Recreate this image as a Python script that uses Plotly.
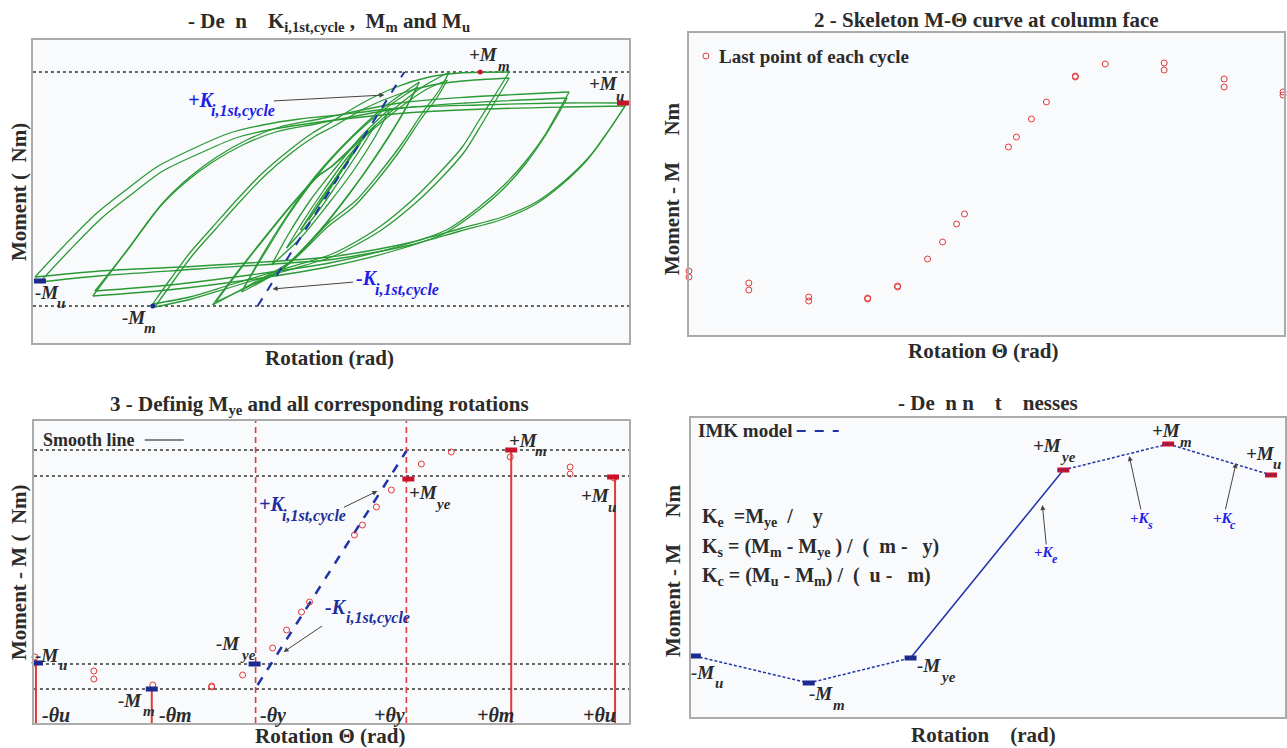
import plotly.graph_objects as go

W, H = 1287, 748
FONT = "Liberation Serif, Times New Roman, serif"
DARK = "#2b2b2b"
GREEN = "#2a9a35"
RED = "#e03a3a"
DRED = "#c8142a"
NAVY = "#1b2a8f"
BLUE_DASH = "#1f33a8"
BRIGHT_BLUE = "#1e1ee6"
KBLUE3 = "#1e2e9e"
NB = "\u00a0"

# ---------------- Panel 1 : hysteresis loops (rotation x1e-4 rad, moment kN.m) -------------
A1_rot = [-296, -268, -234, -201, -174, -134, -101, -68, -31, -1, 69, 149, 229, 297, 279, 259, 232, 206, 172, 132, 82, 32, -1, -131, -231, -296]
A1_mom = [-87, -57, -23, 3, 23, 43, 57, 65, 71, 74, 82, 85, 87, 87, 60, 33, 7, -12, -27, -38, -52, -62, -67, -76, -81, -87]
A2_rot = [-291, -262, -228, -195, -168, -128, -95, -62, -25, 5, 75, 155, 235, 295, 277, 257, 230, 204, 170, 130, 80, 30, -3, -133, -233, -291]
A2_mom = [-92, -61, -27, -1, 19, 38, 52, 60, 66, 70, 77, 81, 83, 84, 57, 30, 4, -15, -30, -41, -55, -65, -70, -79, -86, -92]
B1_rot = [-236, -201, -168, -141, -114, -84, -51, -11, 69, 139, 239, 229, 216, 199, 176, 149, 116, 66, -1, -81, -161, -236]
B1_mom = [-101, -57, -13, 13, 33, 50, 63, 71, 87, 93, 98, 80, 57, 33, 7, -17, -40, -57, -73, -85, -95, -101]
B2_rot = [-238, -205, -172, -145, -118, -88, -55, -15, 65, 135, 237, 227, 213, 196, 173, 146, 113, 63, -3, -83, -163, -238]
B2_mom = [-106, -62, -18, 8, 28, 45, 58, 66, 81, 87, 92, 74, 51, 27, 1, -22, -44, -61, -77, -90, -100, -106]
C1_rot = [-178, -161, -141, -118, -94, -68, -41, -18, -1, 32, 66, 99, 129, 179, 166, 149, 132, 109, 82, 49, 16, -1, -51, -101, -141, -178]
C1_mom = [-114, -90, -63, -37, -10, 17, 40, 57, 67, 87, 103, 113, 117, 118, 97, 70, 43, 17, -10, -37, -57, -65, -80, -95, -107, -114]
C2_rot = [-176, -158, -138, -115, -91, -65, -38, -15, 2, 35, 69, 102, 132, 179, 167, 151, 134, 111, 84, 51, 18, 1, -49, -99, -139, -176]
C2_mom = [-117, -92, -65, -39, -12, 15, 38, 54, 63, 82, 96, 105, 109, 112, 92, 65, 38, 12, -14, -40, -59, -67, -82, -97, -109, -117]
D1_rot = [-118, -94, -68, -41, -14, -1, 32, 66, 92, 119, 109, 92, 72, 49, 26, -1, -41, -81, -118]
D1_mom = [-115, -83, -50, -17, 13, 22, 53, 83, 103, 118, 100, 77, 47, 17, -10, -32, -72, -95, -115]
D2_rot = [-115, -91, -65, -38, -11, 2, 35, 69, 95, 117, 107, 90, 70, 47, 24, -3, -43, -83, -115]
D2_mom = [-112, -80, -47, -14, 15, 24, 54, 82, 100, 110, 93, 70, 40, 10, -16, -37, -75, -97, -112]
E1_rot = [-89, -70, -45, -15, 20, 55, 89, 72, 48, 20, -12, -50, -89]
E1_mom = [-102, -68, -28, 14, 52, 84, 108, 76, 38, -2, -42, -80, -102]
E2_rot = [-87, -67, -42, -12, 22, 57, 87, 70, 46, 18, -14, -52, -87]
E2_mom = [-98, -65, -25, 16, 53, 83, 103, 72, 34, -5, -45, -82, -98]
F_rot = [-59, -42, -20, 5, 32, 60, 44, 22, -3, -30, -59]
F_mom = [-75, -44, -10, 22, 55, 82, 52, 18, -15, -48, -75]
G_rot = [-44, -28, -8, 15, 45, 28, 8, -15, -44]
G_mom = [-58, -32, -2, 30, 65, 38, 8, -25, -58]
H_rot = [-30, -12, 8, 30, 12, -8, -30]
H_mom = [-40, -12, 16, 47, 20, -10, -40]
I_rot = [-22, -5, 22, 5, -22]
I_mom = [-30, -4, 37, 10, -30]

p1_k_rot = [-73, 74]
p1_k_mom = [-116, 118]
p1_levels = [118, -116]
p1_pos_Mm = (150, 118)
p1_neg_Mm = (-178, -116)
p1_pos_Mu = (293, 87)
p1_neg_Mu = (-291, -91)

# ---------------- Panel 2 : skeleton points -------------
p2_rot = [-298, -298, -238, -238, -178, -178, -119, -119, -89, -89, -59, -44, -30, -22,
          22, 30, 45, 60, 89, 89, 119, 178, 178, 238, 238, 297, 297]
p2_mom = [-87, -93, -99, -106, -113, -117, -114, -115, -102, -103, -75, -58, -40, -30,
          37, 47, 65, 82, 108, 107, 120, 121, 114, 105, 97, 92, 89]

# ---------------- Panel 3 -------------
p3_rot = [-291, -291, -232, -232, -173, -114, -114, -83, -53, -39, -24, -16, 29, 37, 51, 66, 96, 126, 185, 245, 245, 289]
p3_mom = [-86, -92, -100, -108, -114, -115, -116, -104, -77, -59, -41, -31, 36, 46, 64, 81, 107, 119, 114, 104, 97, 93]
p3_levels = [121, 95, -93, -118]
p3_theta_y = [-70, 81]
p3_stem_rot = [-290, -174, 186, 290]
p3_stem_mom = [-92, -118, 121, 95]
p3_bar_rot = [-289, -174, -71, 83, 186, 288]
p3_bar_mom = [-92, -118, -93, 92, 121, 94]
p3_k_rot = [-68, 81]
p3_k_mom = [-114, 120]

# ---------------- Panel 4 : IMK model -------------
p4_rot = [-294, -180, -78, 75, 180, 283]
p4_mom = [-86, -113, -88, 100, 126, 95]

R1 = dict(x=[-298, 299], y=[-153, 150])
R2 = dict(x=[-298, 298], y=[-151, 151])
R3 = dict(x=[-292, 304], y=[-152, 150])
R4 = dict(x=[-298, 297], y=[-147, 152])

fig = go.Figure()


def add(xs, ys, ax, **kw):
    suf = "" if ax == 1 else str(ax)
    base = dict(x=xs, y=ys, xaxis="x" + suf, yaxis="y" + suf, showlegend=False, hoverinfo="skip")
    base.update(kw)
    fig.add_trace(go.Scatter(**base))


# panel 1
for lv in p1_levels:
    add(R1["x"], [lv, lv], 1, mode="lines", line=dict(color="#333", width=1.6, dash="dot"))
loops = [(A1_rot, A1_mom), (A2_rot, A2_mom), (B1_rot, B1_mom), (B2_rot, B2_mom),
         (C1_rot, C1_mom), (C2_rot, C2_mom), (D1_rot, D1_mom), (D2_rot, D2_mom),
         (E1_rot, E1_mom), (E2_rot, E2_mom), (F_rot, F_mom), (G_rot, G_mom),
         (H_rot, H_mom), (I_rot, I_mom)]
for lr, lm in loops:
    k = lr.index(max(lr))
    add(lr[:k + 1], lm[:k + 1], 1, mode="lines", line=dict(color=GREEN, width=1.3, shape="spline", smoothing=0.8))
    add(lr[k:], lm[k:], 1, mode="lines", line=dict(color=GREEN, width=1.3, shape="spline", smoothing=0.8))
add(p1_k_rot, p1_k_mom, 1, mode="lines", line=dict(color=BLUE_DASH, width=2, dash="dash"))
add([p1_pos_Mm[0]], [p1_pos_Mm[1]], 1, mode="markers", marker=dict(color=DRED, size=5), cliponaxis=False)
add([p1_neg_Mm[0]], [p1_neg_Mm[1]], 1, mode="markers", marker=dict(color=NAVY, size=5), cliponaxis=False)
add([p1_pos_Mu[0] - 6, p1_pos_Mu[0] + 6], [p1_pos_Mu[1]] * 2, 1, mode="lines", line=dict(color=DRED, width=5))
add([p1_neg_Mu[0] - 6, p1_neg_Mu[0] + 6], [p1_neg_Mu[1]] * 2, 1, mode="lines", line=dict(color=NAVY, width=5))

# panel 2
add(p2_rot, p2_mom, 2, mode="markers", cliponaxis=False,
    marker=dict(symbol="circle-open", size=6, color=RED, line=dict(width=1, color=RED)))

# panel 3
for lv in p3_levels:
    add(R3["x"], [lv, lv], 3, mode="lines", line=dict(color="#333", width=1.6, dash="dot"))
for tv in p3_theta_y:
    add([tv, tv], R3["y"], 3, mode="lines", line=dict(color=RED, width=1.6, dash="6px,4px"))
for sr, sm in zip(p3_stem_rot, p3_stem_mom):
    add([sr, sr], [sm, R3["y"][0]], 3, mode="lines", line=dict(color=RED, width=2))
add(p3_k_rot, p3_k_mom, 3, mode="lines", line=dict(color=BLUE_DASH, width=2.5, dash="dash"))
add(p3_rot, p3_mom, 3, mode="markers", cliponaxis=False,
    marker=dict(symbol="circle-open", size=6, color=RED, line=dict(width=1, color=RED)))
for br, bm in zip(p3_bar_rot, p3_bar_mom):
    add([br - 6, br + 6], [bm, bm], 3, mode="lines", line=dict(color=NAVY if bm < 0 else DRED, width=5))

# panel 4
segs = [(0, 1, "3px,2px"), (1, 2, "3px,2px"), (2, 3, "solid"), (3, 4, "3px,2px"), (4, 5, "3px,2px")]
for a, b, d in segs:
    add([p4_rot[a], p4_rot[b]], [p4_mom[a], p4_mom[b]], 4, mode="lines", line=dict(color=BLUE_DASH, width=1.5, dash=d))
for br, bm in zip(p4_rot, p4_mom):
    add([br - 6, br + 6], [bm, bm], 4, mode="lines", line=dict(color=NAVY if bm < 0 else DRED, width=5))
    if bm > 0:
        add([br - 6, br + 6], [bm, bm], 4, mode="lines", line=dict(color=BLUE_DASH, width=1, dash="2px,2px"))


def axis(dom_x, rng, anchor):
    return dict(domain=[dom_x[0] / W, dom_x[1] / W], range=rng, anchor=anchor, showticklabels=False,
                ticks="", showgrid=False, zeroline=False, showline=True, linecolor="#ababab",
                linewidth=1.5, mirror=True, fixedrange=True)


def yaxis(dom_y, rng, anchor):
    return dict(domain=[1 - dom_y[1] / H, 1 - dom_y[0] / H], range=rng, anchor=anchor, showticklabels=False,
                ticks="", showgrid=False, zeroline=False, showline=True, linecolor="#ababab",
                linewidth=1.5, mirror=True, fixedrange=True)


def txt(x, y, s, size=19, color=DARK, italic=False, xanchor="left", yanchor="middle", angle=0):
    t = f"<b>{s}</b>"
    if italic:
        t = f"<i>{t}</i>"
    return dict(x=x / W, y=1 - y / H, xref="paper", yref="paper", text=t, showarrow=False,
                font=dict(family=FONT, size=size, color=color), xanchor=xanchor, yanchor=yanchor,
                textangle=angle)


def lab(mx, my, main, sx, sy, sub, size=19, subsize=15, color=DARK):
    return [txt(mx, my, main, size=size, color=color, italic=True),
            txt(sx, sy, sub, size=subsize, color=color, italic=True)]


def arrow(tx, ty, hx, hy, color="#444"):
    return dict(x=hx / W, y=1 - hy / H, xref="paper", yref="paper", ax=tx - hx, ay=ty - hy,
                axref="pixel", ayref="pixel", text="", showarrow=True, arrowhead=2, arrowsize=1,
                arrowwidth=1, arrowcolor=color)


ann = []
# titles
ann.append(txt(330, 22, f"- De{NB*2}n{NB*4}K<sub>i,1st,cycle</sub>{NB},{NB*2}M<sub>m</sub>{NB}and M<sub>u</sub>", size=21, xanchor="center"))
ann.append(txt(988, 20, "2 - Skeleton M-Θ curve at column face", size=21, xanchor="center"))
ann.append(txt(320, 405, "3 - Definig M<sub>ye</sub> and all corresponding rotations", size=21, xanchor="center"))
ann.append(txt(990, 403, f"- De{NB*2}n{NB}n{NB*4}t{NB*4}nesses", size=21, xanchor="center"))
# axis titles
ann.append(txt(330, 358, "Rotation (rad)", size=21, xanchor="center"))
ann.append(txt(19, 192, f"Moment ({NB}{NB}Nm)", size=21, xanchor="center", angle=-90))
ann.append(txt(985, 351, "Rotation Θ (rad)", size=21, xanchor="center"))
ann.append(txt(673, 188, f"Moment - M{NB*5}Nm", size=21, xanchor="center", angle=-90))
ann.append(txt(331, 736, "Rotation Θ (rad)", size=21, xanchor="center"))
ann.append(txt(19, 572, f"Moment - M ({NB}{NB}Nm)", size=21, xanchor="center", angle=-90))
ann.append(txt(985, 735, f"Rotation{NB*4}(rad)", size=21, xanchor="center"))
ann.append(txt(674, 570, f"Moment - M{NB*5}Nm", size=21, xanchor="center", angle=-90))

# panel 1 labels
ann += lab(468, 55, "+M", 497, 66, "m")
ann += lab(588, 83, "+M", 615, 96, "u")
ann += lab(33, 292, "-M", 55, 303, "u")
ann += lab(120, 317, "-M", 142, 328, "m")
ann += lab(186, 100, "+K", 209, 111, "i,1st,cycle", size=20, subsize=16, color=BRIGHT_BLUE)
ann += lab(355, 278, "-K", 374, 290, "i,1st,cycle", size=20, subsize=16, color=BRIGHT_BLUE)
ann.append(arrow(273, 101, 385, 95))
ann.append(arrow(355, 282, 273, 289))

# panel 2 legend
ann.append(txt(718, 57, "Last point of each cycle", size=19))

# panel 3 labels
ann.append(txt(41, 440, "Smooth line", size=18))
ann += lab(33, 655, "-M", 57, 665, "u")
ann += lab(116, 700, "-M", 141, 711, "m")
ann += lab(214, 643, "-M", 238, 655, "ye")
ann += lab(408, 492, "+M", 434, 504, "ye")
ann += lab(508, 440, "+M", 534, 451, "m")
ann += lab(580, 495, "+M", 607, 507, "u")
for x, s in [(40, "-θu"), (157, "-θm"), (258, "-θy"), (373, "+θy"), (476, "+θm"), (582, "+θu")]:
    ann.append(txt(x, 715, s, size=20, italic=True))
ann += lab(257, 504, "+K", 280, 516, "i,1st,cycle", size=20, subsize=16, color=KBLUE3)
ann += lab(324, 607, "-K", 345, 618, "i,1st,cycle", size=20, subsize=16, color=KBLUE3)
ann.append(arrow(343, 508, 378, 491))
ann.append(arrow(324, 625, 284, 652))

# panel 4 labels
ann.append(txt(697, 430, "IMK model", size=19))
ann += lab(1033, 445, "+M", 1060, 457, "ye")
ann += lab(1152, 430, "+M", 1180, 442, "m")
ann += lab(1246, 453, "+M", 1273, 464, "u")
ann += lab(690, 672, "-M", 714, 683, "u")
ann += lab(808, 693, "-M", 832, 705, "m")
ann += lab(916, 665, "-M", 939, 677, "ye")
ann += lab(1034, 552, "+K", 1052, 559, "e", size=15, subsize=12, color=BRIGHT_BLUE)
ann += lab(1130, 518, "+K", 1147, 525, "s", size=15, subsize=12, color=BRIGHT_BLUE)
ann += lab(1213, 518, "+K", 1230, 525, "c", size=15, subsize=12, color=BRIGHT_BLUE)
ann.append(arrow(1048, 546, 1044, 505))
ann.append(arrow(1143, 511, 1131, 456))
ann.append(arrow(1227, 511, 1238, 463))
ann.append(txt(701, 517, f"K<sub>e</sub>{NB*2}=M<sub>ye</sub>{NB*2}/{NB*4}y", size=20))
ann.append(txt(701, 547, f"K<sub>s</sub> = (M<sub>m</sub> - M<sub>ye</sub> ) /{NB*2}({NB*2}m -{NB*3}y)", size=20))
ann.append(txt(701, 576, f"K<sub>c</sub> = (M<sub>u</sub> - M<sub>m</sub>) /{NB*2}({NB*2}u -{NB*3}m)", size=20))

shapes = [
    dict(type="line", xref="paper", yref="paper", x0=145 / W, x1=184 / W, y0=1 - 440 / H, y1=1 - 440 / H,
         line=dict(color="#111", width=1.2)),
    dict(type="line", xref="paper", yref="paper", x0=798 / W, x1=840 / W, y0=1 - 431 / H, y1=1 - 431 / H,
         line=dict(color=BLUE_DASH, width=2, dash="dash")),
    dict(type="circle", xref="paper", yref="paper", x0=704 / W, x1=710 / W, y0=1 - 59 / H, y1=1 - 53 / H,
         line=dict(color=RED, width=1)),
]

fig.update_layout(
    width=W, height=H, margin=dict(l=0, r=0, t=0, b=0),
    paper_bgcolor="#ffffff", plot_bgcolor="#f9fafc",
    showlegend=False,
    xaxis=axis((33, 630), R1["x"], "y"), yaxis=yaxis((40, 343), R1["y"], "x"),
    xaxis2=axis((690, 1286), R2["x"], "y2"), yaxis2=yaxis((33, 335), R2["y"], "x2"),
    xaxis3=axis((34, 630), R3["x"], "y3"), yaxis3=yaxis((421, 723), R3["y"], "x3"),
    xaxis4=axis((692, 1287), R4["x"], "y4"), yaxis4=yaxis((418, 717), R4["y"], "x4"),
    annotations=ann, shapes=shapes,
)

fig.write_html("out.html")
